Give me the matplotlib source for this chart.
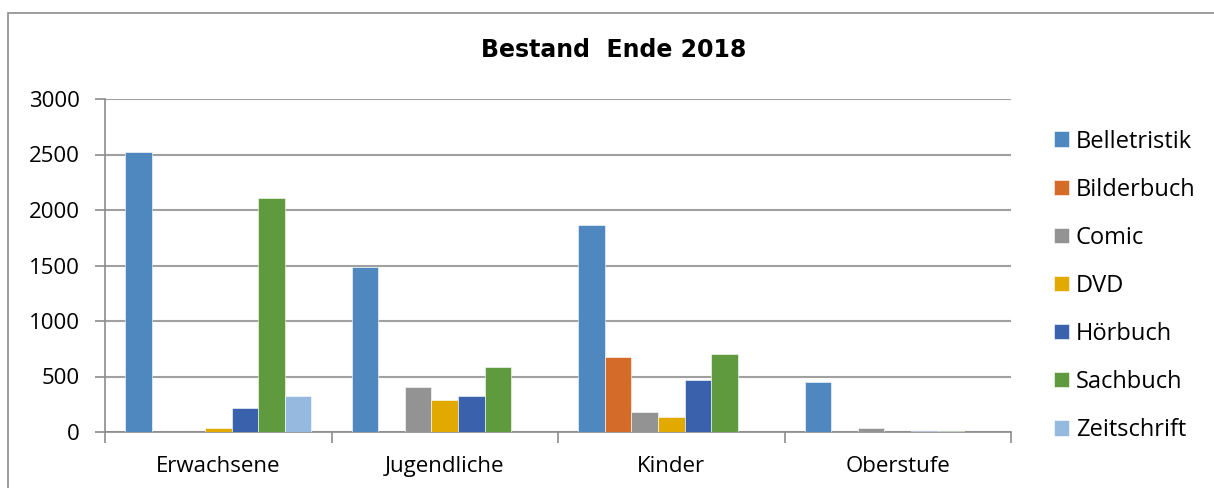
import numpy as np
import matplotlib.pyplot as plt
from matplotlib.patches import Rectangle

categories = ['Erwachsene', 'Jugendliche', 'Kinder', 'Oberstufe']
series = ['Belletristik', 'Bilderbuch', 'Comic', 'DVD', 'Hörbuch', 'Sachbuch', 'Zeitschrift']

belletristik = [2520, 1490, 1865, 450]
bilderbuch = [0, 0, 680, 0]
comic = [0, 405, 180, 35]
dvd = [40, 285, 135, 0]
hoerbuch = [218, 325, 465, 5]
sachbuch = [2110, 588, 705, 5]
zeitschrift = [325, 0, 0, 0]

values = [belletristik, bilderbuch, comic, dvd, hoerbuch, sachbuch, zeitschrift]
colors = ['#4E88BE', '#D46B28', '#939393', '#E2AA00', '#3A62AC', '#5F9A3F', '#96B9E0']

plt.rcParams['font.family'] = ['Open Sans', 'DejaVu Sans']

fig = plt.figure(figsize=(12.14, 4.88), dpi=100)
fig.patches.append(Rectangle((8 / 1214, -0.1), 1.2, (488 - 13) / 488 + 0.1,
                             transform=fig.transFigure, fill=False,
                             edgecolor='#8c8c8c', linewidth=1.2))

ax = fig.add_axes([105 / 1214, (488 - 432) / 488, 906 / 1214, 333 / 488])

x = np.arange(len(categories))
w = 0.117
for i, (name, vals) in enumerate(zip(series, values)):
    ax.bar(x + (i - 3) * w, vals, width=w, color=colors[i], label=name,
           edgecolor='white', linewidth=0.4, zorder=3)

ax.set_xlim(-0.5, 3.5)
ax.set_ylim(0, 3000)
ax.set_yticks(range(0, 3001, 500))
ax.set_xticks(x)
ax.set_xticklabels(categories, fontsize=16)
ax.set_xticks(np.arange(-0.5, 4, 1), minor=True)
ax.tick_params(axis='x', which='major', length=0, pad=17)
ax.tick_params(axis='x', which='minor', length=8, color='#8c8c8c', width=1.2)
ax.tick_params(axis='y', length=7, color='#8c8c8c', width=1.2, labelsize=16, pad=11)
ax.grid(axis='y', color='#a0a0a0', linewidth=1.5, zorder=0)
for s in ['top', 'right']:
    ax.spines[s].set_visible(False)
for s in ['left', 'bottom']:
    ax.spines[s].set_color('#8c8c8c')
    ax.spines[s].set_linewidth(1.2)

fig.text(614 / 1214, 1 - 50 / 488, 'Bestand  Ende 2018', ha='center', va='center',
         fontsize=17, fontweight='bold', family='DejaVu Sans')

ax.legend(loc='center left', bbox_to_anchor=(1.047, 0.439), frameon=False,
          fontsize=17, handlelength=0.64, handleheight=0.64, labelspacing=1.02,
          handletextpad=0.3, borderpad=0, borderaxespad=0)

fig.savefig('out.png', dpi=100)
